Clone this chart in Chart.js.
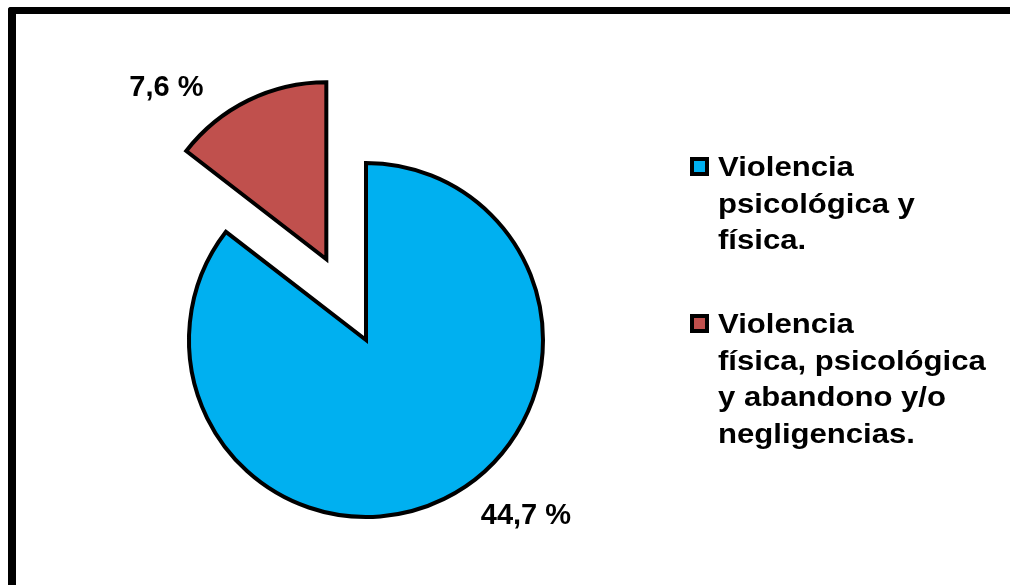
<!DOCTYPE html>
<html>
<head>
<meta charset="utf-8">
<script src="https://cdn.jsdelivr.net/npm/chart.js@4/dist/chart.umd.min.js"></script>
<style>
  html, body { margin: 0; padding: 0; background: #fff; overflow: hidden; }
  #wrap { position: relative; width: 1010px; height: 585px; }
  #frame {
    position: absolute; left: 8px; top: 7px; width: 1100px; height: 576px;
    border-left: 8px solid #000; border-top: 7px solid #000;
    border-bottom: 1px solid #888; border-top-left-radius: 3px;
  }
  #chart { position: absolute; left: 0; top: 0; }
  #legend { position: absolute; left: 690px; top: 149px; }
  .item { position: relative; margin-bottom: 47.5px; }
  .box {
    position: absolute; left: 0; top: 8px; width: 11px; height: 11px;
    border: 4px solid #000;
  }
  .txt {
    position: absolute; left: 28px; top: 0; white-space: nowrap;
    font: bold 28px "Liberation Sans", Arial, sans-serif; line-height: 36.5px;
    color: #000; transform: scaleX(1.11); transform-origin: left top;
  }
</style>
</head>
<body>
<div id="wrap">
  <div id="frame"></div>
  <canvas id="chart" width="1010" height="585"></canvas>
  <div id="legend"></div>
</div>
<script>
// categorías y valores (%)
const categories = [
  ['Violencia', 'psicológica y', 'física.'],
  ['Violencia', 'física, psicológica', 'y abandono y/o', 'negligencias.']
];
const values = [44.7, 7.6];
const colors = ['#00B0F0', '#C0504D'];
const explode = [0, 90];

// separar el sector (desplaza el centro del arco a lo largo de su ángulo medio)
const explodeSlices = {
  id: 'explodeSlices',
  afterUpdate(chart) {
    const meta = chart.getDatasetMeta(0);
    meta.data.forEach((arc, i) => {
      const d = explode[i] || 0;
      if (!d) return;
      const mid = (arc.startAngle + arc.endAngle) / 2;
      arc.x += Math.cos(mid) * d;
      arc.y += Math.sin(mid) * d;
    });
  }
};

// etiquetas de porcentaje junto a cada sector
const pctLabels = {
  id: 'pctLabels',
  afterDatasetsDraw(chart) {
    const ctx = chart.ctx;
    const meta = chart.getDatasetMeta(0);
    ctx.save();
    ctx.font = 'bold 29px "Liberation Sans", Arial, sans-serif';
    ctx.fillStyle = '#000';
    ctx.textAlign = 'center';
    ctx.textBaseline = 'alphabetic';
    meta.data.forEach((arc, i) => {
      const mid = (arc.startAngle + arc.endAngle) / 2;
      const a = mid - 16.5 * Math.PI / 180;
      const r = arc.outerRadius + 59;
      const txt = values[i].toFixed(1).replace('.', ',') + ' %';
      ctx.fillText(txt, arc.x + Math.cos(a) * r, arc.y + Math.sin(a) * r + 10);
    });
    ctx.restore();
  }
};

const chart = new Chart(document.getElementById('chart'), {
  type: 'pie',
  data: {
    labels: categories,
    datasets: [{
      data: values,
      backgroundColor: colors,
      borderColor: '#000',
      borderWidth: 4,
      borderJoinStyle: 'miter',
      hoverOffset: 0
    }]
  },
  options: {
    responsive: false,
    animation: false,
    events: [],
    radius: 177,
    layout: { padding: { left: 0, right: 278, top: 95, bottom: 0 } },
    plugins: {
      legend: { display: false },
      tooltip: { enabled: false }
    }
  },
  plugins: [explodeSlices, pctLabels]
});

// leyenda
const legend = document.getElementById('legend');
categories.forEach((lines, i) => {
  const item = document.createElement('div');
  item.className = 'item';
  item.style.height = (lines.length * 36.5) + 'px';
  item.innerHTML = `<span class="box" style="background:${colors[i]}"></span>` +
    `<div class="txt">${lines.join('<br>')}</div>`;
  legend.appendChild(item);
});
</script>
</body>
</html>
